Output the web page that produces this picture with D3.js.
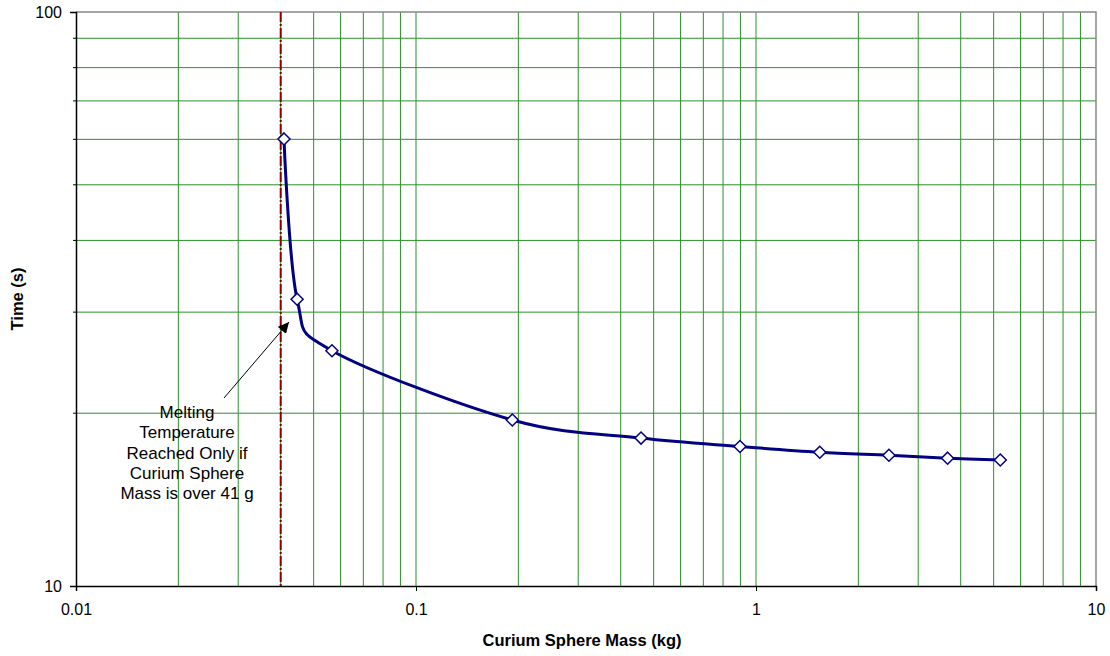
<!DOCTYPE html>
<html>
<head>
<meta charset="utf-8">
<script src="https://cdn.jsdelivr.net/npm/d3@7"></script>
<style>
  body { margin: 0; background: #fff; }
  text { font-family: "Liberation Sans", Arial, sans-serif; fill: #000; }
</style>
</head>
<body>
<svg id="svg0" width="1110" height="656"></svg>
<script>
// curium sphere mass (kg) vs time to melt (s)
var massKg = [0.0409, 0.0447, 0.0566, 0.192, 0.459, 0.897, 1.54, 2.46, 3.66, 5.23];
var timeS  = [60.1, 31.6, 25.7, 19.46, 18.1, 17.5, 17.1, 16.9, 16.7, 16.58];

var xTicks = [0.01, 0.1, 1, 10];
var xTickLabels = ["0.01", "0.1", "1", "10"];
var yTicks = [10, 100];
var yTickLabels = ["10", "100"];

// minimum mass where melting is reached (vertical marker)
var meltLimit = [0.04];
var noteLines = ["Melting", "Temperature", "Reached Only if", "Curium Sphere", "Mass is over 41 g"];

var svg = d3.select("#svg0");
var plotLeft = 76, plotRight = 1096, plotTop = 12, plotBottom = 586;

var x = d3.scaleLog().domain([0.01, 10]).range([plotLeft, plotRight]);
var y = d3.scaleLog().domain([10, 100]).range([plotBottom, plotTop]);

// minor grid values inside each decade
var xGrid = [];
[0.01, 0.1, 1].forEach(function(d) {
	for (let k = 1; k <= 9; k++) xGrid.push(d * k);
});
var yGrid = [];
for (let k = 2; k <= 9; k++) yGrid.push(10 * k);

var g = svg.append("g");

// gridlines
g.selectAll(".vgrid")
	.data(xGrid.filter(d => d > 0.011))
	.enter().append("line")
	.attr("class", "vgrid")
	.attr("x1", d => x(d)).attr("x2", d => x(d))
	.attr("y1", plotTop).attr("y2", plotBottom)
	.attr("stroke", "#2a912a").attr("stroke-width", 1);

g.selectAll(".hgrid")
	.data(yGrid)
	.enter().append("line")
	.attr("class", "hgrid")
	.attr("x1", plotLeft).attr("x2", plotRight)
	.attr("y1", d => y(d)).attr("y2", d => y(d))
	.attr("stroke", "#2a912a").attr("stroke-width", 1);

// top / right border
g.append("path")
	.attr("d", "M" + plotLeft + "," + plotTop + "H" + plotRight + "V" + plotBottom)
	.attr("fill", "none").attr("stroke", "#888").attr("stroke-width", 1.5);

// melting limit line
g.selectAll(".limit")
	.data(meltLimit)
	.enter().append("line")
	.attr("x1", d => x(d)).attr("x2", d => x(d))
	.attr("y1", plotTop).attr("y2", plotBottom)
	.attr("stroke", "#8b0000").attr("stroke-width", 2)
	.attr("stroke-dasharray", "10,2,2,2");

// axes
var xa = g.append("g")
	.attr("transform", "translate(0," + plotBottom + ")")
	.call(d3.axisBottom(x).tickValues(xTicks).tickFormat((d, i) => xTickLabels[i]).tickSize(5));
xa.select(".domain").attr("stroke", "#000").attr("stroke-width", 1.5);
xa.selectAll(".tick line").attr("stroke", "#000");
xa.selectAll(".tick text")
	.attr("font-size", 16).attr("font-family", "Liberation Sans, Arial, sans-serif")
	.attr("y", 18);

var ya = g.append("g")
	.attr("transform", "translate(" + plotLeft + ",0)")
	.call(d3.axisLeft(y).tickValues(yTicks).tickFormat((d, i) => yTickLabels[i]).tickSize(6));
ya.select(".domain").attr("stroke", "#000").attr("stroke-width", 1.5);
ya.selectAll(".tick line").attr("stroke", "#000");
ya.selectAll(".tick text")
	.attr("font-size", 16).attr("font-family", "Liberation Sans, Arial, sans-serif")
	.attr("x", -14);

// minor y ticks
g.selectAll(".ytick")
	.data(yGrid)
	.enter().append("line")
	.attr("x1", plotLeft - 3).attr("x2", plotLeft)
	.attr("y1", d => y(d)).attr("y2", d => y(d))
	.attr("stroke", "#000");

// axis titles
svg.append("text")
	.attr("x", (plotLeft + plotRight) / 2 - 4).attr("y", 646)
	.attr("text-anchor", "middle")
	.attr("font-size", 16.5).attr("font-weight", "bold")
	.text("Curium Sphere Mass (kg)");

svg.append("text")
	.attr("transform", "translate(23," + ((plotTop + plotBottom) / 2) + ") rotate(-90)")
	.attr("text-anchor", "middle")
	.attr("font-size", 16.5).attr("font-weight", "bold")
	.text("Time (s)");

// data series
var pts = massKg.map((d, i) => [d, timeS[i]]);
var line = d3.line()
	.x(d => x(d[0])).y(d => y(d[1]))
	.curve(d3.curveCatmullRom.alpha(0));

g.append("path")
	.datum(pts)
	.attr("d", line)
	.attr("fill", "none")
	.attr("stroke", "#000080")
	.attr("stroke-width", 3);

g.selectAll(".mark")
	.data(pts)
	.enter().append("path")
	.attr("class", "mark")
	.attr("transform", d => "translate(" + x(d[0]) + "," + y(d[1]) + ")")
	.attr("d", "M0,-6L6,0L0,6L-6,0Z")
	.attr("fill", "#fff")
	.attr("stroke", "#000080")
	.attr("stroke-width", 1.5);

// annotation
var defs = svg.append("defs");
defs.append("marker")
	.attr("id", "arrow")
	.attr("viewBox", "0 0 10 10")
	.attr("refX", 10).attr("refY", 5)
	.attr("markerWidth", 11).attr("markerHeight", 11)
	.attr("markerUnits", "userSpaceOnUse")
	.attr("orient", "auto")
	.append("path")
	.attr("d", "M0,0L10,5L0,10Z")
	.attr("fill", "#000");

g.append("line")
	.attr("x1", 224).attr("y1", 398)
	.attr("x2", 289).attr("y2", 322)
	.attr("stroke", "#000").attr("stroke-width", 1)
	.attr("marker-end", "url(#arrow)");

var note = g.append("text")
	.attr("text-anchor", "middle")
	.attr("font-size", 17);
note.selectAll("tspan")
	.data(noteLines)
	.enter().append("tspan")
	.attr("x", 187)
	.attr("y", (d, i) => 418 + i * 20.3)
	.text(d => d);
</script>
</body>
</html>
